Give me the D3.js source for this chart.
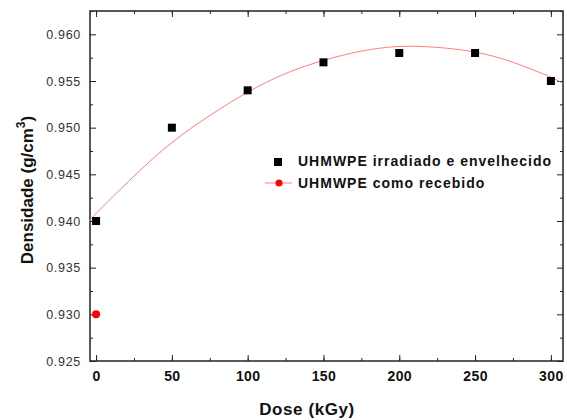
<!DOCTYPE html>
<html>
<head>
<meta charset="utf-8">
<script src="https://cdn.jsdelivr.net/npm/d3@7"></script>
<style>
  body { margin: 0; background: #fff; }
  svg { display: block; font-family: Arial, "Liberation Sans", sans-serif; }
</style>
</head>
<body>
<svg width="567" height="420"></svg>
<script>
// measured points
var doses = [0, 50, 100, 150, 200, 250, 300];
var densities = [0.940, 0.950, 0.954, 0.957, 0.958, 0.958, 0.955];
var refDose = [0];
var refDensity = [0.930];

// fitted curve
var fitDose = [-4, 0, 25, 50, 75, 100, 125, 150, 175, 200, 225, 250, 275, 300, 308];
var fitDensity = [0.9400, 0.9408, 0.9448, 0.9484, 0.9513, 0.9538, 0.9558, 0.9572, 0.9582, 0.9587, 0.9586, 0.9581, 0.9570, 0.9554, 0.9547];

var xTicks = [0, 50, 100, 150, 200, 250, 300];
var yTicks = [0.925, 0.930, 0.935, 0.940, 0.945, 0.950, 0.955, 0.960];

var svg = d3.select('svg');
var plotLeft = 90, plotRight = 563, plotTop = 11, plotBottom = 361;

var xScale = d3.scaleLinear().domain([-4, 308]).range([plotLeft, plotRight]);
var yScale = d3.scaleLinear().domain([0.925, 0.9625]).range([plotBottom, plotTop]);

var minorX = d3.range(0, 301, 25);
var minorY = d3.range(0.9275, 0.9626, 0.005);

// ticks (inward) on all four sides
function addAxis(axis, tx, ty) {
  var g = svg.append('g').attr('transform', 'translate(' + tx + ',' + ty + ')').call(axis);
  g.select('.domain').remove();
  g.selectAll('line').attr('stroke', '#222');
  return g;
}

var xb = addAxis(d3.axisBottom(xScale).tickValues(xTicks).tickSize(-6).tickPadding(10).tickFormat(d3.format('d')), 0, plotBottom);
xb.selectAll('text').attr('font-size', 14).attr('font-weight', 'bold').attr('fill', '#111')
  .attr('letter-spacing', 0.4).attr('font-family', 'Arial, "Liberation Sans", sans-serif');
addAxis(d3.axisBottom(xScale).tickValues(minorX).tickSize(-3).tickFormat(''), 0, plotBottom);
addAxis(d3.axisTop(xScale).tickValues(xTicks).tickSize(-6).tickFormat(''), 0, plotTop);
addAxis(d3.axisTop(xScale).tickValues(minorX).tickSize(-3).tickFormat(''), 0, plotTop);

var yl = addAxis(d3.axisLeft(yScale).tickValues(yTicks).tickSize(-6).tickPadding(9).tickFormat(d3.format('.3f')), plotLeft, 0);
yl.selectAll('text').attr('font-size', 12.5).attr('fill', '#333').attr('letter-spacing', 0.7)
  .attr('font-family', 'Arial, "Liberation Sans", sans-serif');
addAxis(d3.axisLeft(yScale).tickValues(minorY).tickSize(-3).tickFormat(''), plotLeft, 0);
addAxis(d3.axisRight(yScale).tickValues(yTicks).tickSize(-6).tickFormat(''), plotRight, 0);
addAxis(d3.axisRight(yScale).tickValues(minorY).tickSize(-3).tickFormat(''), plotRight, 0);

svg.append('rect')
  .attr('x', plotLeft).attr('y', plotTop)
  .attr('width', plotRight - plotLeft).attr('height', plotBottom - plotTop)
  .attr('fill', 'none').attr('stroke', '#222').attr('stroke-width', 1.5);

// fit line
var line = d3.line()
  .x(function(d, i) { return xScale(fitDose[i]); })
  .y(function(d) { return yScale(d); })
  .curve(d3.curveNatural);

svg.append('path')
  .datum(fitDensity)
  .attr('d', line)
  .attr('fill', 'none')
  .attr('stroke', '#ff8080')
  .attr('stroke-width', 1);

svg.append('g').selectAll('rect')
  .data(densities)
  .enter()
  .append('rect')
  .attr('x', function(d, i) { return xScale(doses[i]) - 4; })
  .attr('y', function(d) { return yScale(d) - 4; })
  .attr('width', 8).attr('height', 8)
  .attr('fill', '#000');

svg.append('g').selectAll('circle')
  .data(refDensity)
  .enter()
  .append('circle')
  .attr('cx', function(d, i) { return xScale(refDose[i]); })
  .attr('cy', function(d) { return yScale(d); })
  .attr('r', 4)
  .attr('fill', '#f00');

// legend
var lg = svg.append('g');
lg.append('rect').attr('x', 274).attr('y', 158).attr('width', 8).attr('height', 8).attr('fill', '#000');
lg.append('text').attr('x', 298).attr('y', 166).attr('font-size', 14).attr('font-weight', 'bold').attr('fill', '#111')
  .attr('letter-spacing', 1).text('UHMWPE irradiado e envelhecido');
lg.append('line').attr('x1', 265).attr('x2', 292).attr('y1', 183).attr('y2', 183).attr('stroke', '#ff8080').attr('stroke-width', 1);
lg.append('circle').attr('cx', 279).attr('cy', 183).attr('r', 3.5).attr('fill', '#f00');
lg.append('text').attr('x', 298).attr('y', 188).attr('font-size', 14).attr('font-weight', 'bold').attr('fill', '#111')
  .attr('letter-spacing', 1).text('UHMWPE como recebido');

// axis titles
svg.append('text')
  .attr('x', 307).attr('y', 415)
  .attr('text-anchor', 'middle')
  .attr('font-size', 17).attr('font-weight', 'bold').attr('fill', '#111')
  .attr('letter-spacing', 0.6)
  .text('Dose (kGy)');

var yt = svg.append('text')
  .attr('transform', 'translate(33,190) rotate(-90)')
  .attr('text-anchor', 'middle')
  .attr('font-size', 17).attr('font-weight', 'bold').attr('fill', '#111');
yt.append('tspan').text('Densidade (g/cm');
yt.append('tspan').attr('dy', -8).attr('font-size', 12).text('3');
yt.append('tspan').attr('dy', 8).text(')');
</script>
</body>
</html>
